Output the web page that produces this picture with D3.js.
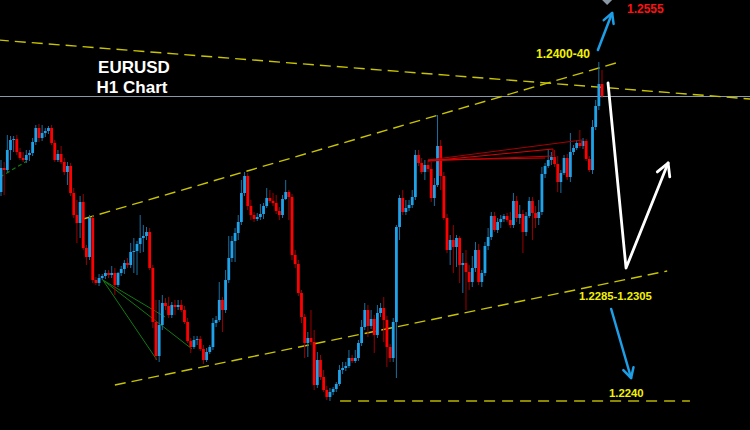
<!DOCTYPE html>
<html><head><meta charset="utf-8">
<script src="https://cdn.jsdelivr.net/npm/d3@7"></script>
<style>html,body{margin:0;padding:0;background:#000;}svg{display:block;}</style>
</head><body><svg id="c" width="750" height="430"></svg>
<script>
// ---- data (EURUSD H1 candles) ----
const opens = [1.2449,1.2473,1.2471,1.2491,1.2501,1.2502,1.2489,1.2483,1.2481,1.2486,1.2488,1.2499,1.2513,1.2503,1.2508,1.2510,1.2513,1.2498,1.2481,1.2487,1.2479,1.2469,1.2475,1.2448,1.2426,1.2418,1.2439,1.2393,1.2384,1.2423,
1.2361,1.2358,1.2363,1.2365,1.2368,1.2366,1.2368,1.2356,1.2368,1.2372,1.2378,1.2376,1.2389,1.2390,1.2397,1.2403,1.2405,1.2409,1.2373,1.2319,
1.2285,1.2316,1.2338,1.2335,1.2326,1.2336,1.2334,1.2336,1.2331,1.2319,1.2300,1.2294,1.2301,1.2302,1.2292,1.2281,1.2289,1.2294,1.2318,1.2321,
1.2341,1.2331,1.2361,1.2383,1.2400,1.2408,1.2419,1.2448,1.2465,1.2435,1.2426,1.2422,1.2424,1.2427,1.2435,1.2443,1.2440,1.2438,1.2430,1.2426,
1.2442,1.2449,1.2444,1.2386,1.2377,1.2348,1.2324,1.2298,1.2303,1.2299,1.2256,1.2281,1.2264,1.2251,1.2244,1.2249,1.2252,1.2257,1.2271,1.2273,
1.2275,1.2283,1.2280,1.2283,1.2298,1.2314,1.2331,1.2315,1.2322,1.2306,1.2328,1.2333,1.2321,1.2294,1.2283,1.2319,1.2414,1.2443,1.2429,1.2433,
1.2436,1.2444,1.2486,1.2478,1.2469,1.2476,1.2472,1.2443,1.2456,1.2495,1.2465,1.2423,1.2391,1.2401,1.2394,1.2403,1.2376,1.2378,1.2369,1.2359,
1.2373,1.2391,1.2359,1.2368,1.2395,1.2404,1.2425,1.2411,1.2419,1.2422,1.2425,1.2421,1.2416,1.2440,1.2423,1.2427,1.2409,1.2425,1.2440,1.2428,
1.2423,1.2429,1.2467,1.2475,1.2481,1.2484,1.2477,1.2459,1.2468,1.2483,1.2464,1.2489,1.2493,1.2498,1.2495,1.2500,1.2482,1.2471,1.2514,1.2535,1.2557];
const highs = [1.2481,1.2479,1.2506,1.2505,1.2505,1.2506,1.2493,1.2489,1.2491,1.2491,1.2503,1.2516,1.2517,1.2516,1.2513,1.2515,1.2516,1.2501,1.2491,1.2495,1.2483,1.2479,1.2478,1.2453,1.2441,1.2445,1.2447,1.2396,1.2426,1.2425,
1.2364,1.2367,1.2367,1.2371,1.2371,1.2375,1.2373,1.2369,1.2375,1.2381,1.2383,1.2398,1.2403,1.2400,1.2426,1.2416,1.2414,1.2413,1.2376,1.2341,
1.2341,1.2346,1.2343,1.2344,1.2339,1.2341,1.2341,1.2341,1.2335,1.2323,1.2303,1.2305,1.2305,1.2305,1.2296,1.2293,1.2296,1.2323,1.2325,1.2359,
1.2344,1.2371,1.2405,1.2405,1.2413,1.2426,1.2461,1.2469,1.2468,1.2441,1.2429,1.2428,1.2437,1.2438,1.2453,1.2451,1.2448,1.2446,1.2434,1.2446,
1.2461,1.2451,1.2447,1.2391,1.2381,1.2351,1.2327,1.2309,1.2331,1.2311,1.2289,1.2286,1.2271,1.2255,1.2253,1.2254,1.2259,1.2276,1.2279,1.2279,
1.2291,1.2286,1.2291,1.2301,1.2321,1.2338,1.2336,1.2331,1.2326,1.2336,1.2338,1.2344,1.2325,1.2297,1.2323,1.2416,1.2446,1.2451,1.2441,1.2441,
1.2451,1.2491,1.2491,1.2483,1.2481,1.2481,1.2479,1.2463,1.2526,1.2501,1.2469,1.2427,1.2406,1.2416,1.2406,1.2405,1.2388,1.2391,1.2376,1.2385,
1.2399,1.2397,1.2371,1.2399,1.2413,1.2429,1.2429,1.2423,1.2426,1.2427,1.2428,1.2429,1.2448,1.2445,1.2436,1.2431,1.2429,1.2444,1.2444,1.2435,
1.2441,1.2474,1.2478,1.2491,1.2489,1.2491,1.2485,1.2471,1.2486,1.2487,1.2508,1.2496,1.2501,1.2511,1.2503,1.2502,1.2485,1.2521,1.2541,1.2579,1.2571];
const lows = [1.2445,1.2446,1.2469,1.2481,1.2489,1.2486,1.2481,1.2479,1.2478,1.2480,1.2485,1.2496,1.2499,1.2500,1.2504,1.2507,1.2496,1.2479,1.2479,1.2477,1.2466,1.2456,1.2445,1.2423,1.2398,1.2403,1.2391,1.2376,1.2381,1.2358,
1.2356,1.2355,1.2361,1.2362,1.2363,1.2363,1.2346,1.2354,1.2365,1.2367,1.2373,1.2373,1.2368,1.2366,1.2388,1.2389,1.2401,1.2371,1.2313,1.2281,
1.2279,1.2311,1.2331,1.2323,1.2323,1.2326,1.2331,1.2329,1.2317,1.2298,1.2288,1.2292,1.2296,1.2290,1.2277,1.2279,1.2287,1.2291,1.2314,1.2319,
1.2309,1.2328,1.2358,1.2379,1.2379,1.2401,1.2416,1.2445,1.2431,1.2421,1.2419,1.2420,1.2421,1.2422,1.2433,1.2438,1.2435,1.2427,1.2421,1.2423,
1.2441,1.2421,1.2381,1.2373,1.2345,1.2318,1.2283,1.2284,1.2296,1.2251,1.2253,1.2261,1.2249,1.2241,1.2240,1.2246,1.2249,1.2255,1.2267,1.2270,
1.2273,1.2278,1.2278,1.2280,1.2295,1.2311,1.2304,1.2312,1.2288,1.2303,1.2324,1.2299,1.2274,1.2279,1.2279,1.2263,1.2401,1.2426,1.2426,1.2430,
1.2433,1.2441,1.2475,1.2467,1.2461,1.2469,1.2439,1.2435,1.2454,1.2451,1.2421,1.2388,1.2376,1.2368,1.2374,1.2358,1.2348,1.2331,1.2351,1.2354,
1.2369,1.2356,1.2354,1.2365,1.2391,1.2401,1.2409,1.2408,1.2413,1.2419,1.2419,1.2413,1.2413,1.2419,1.2417,1.2388,1.2405,1.2423,1.2401,1.2413,
1.2416,1.2426,1.2463,1.2473,1.2476,1.2474,1.2449,1.2448,1.2466,1.2461,1.2459,1.2486,1.2491,1.2493,1.2492,1.2480,1.2469,1.2467,1.2511,1.2531,1.2543];
const closes = [1.2473,1.2471,1.2491,1.2501,1.2502,1.2489,1.2483,1.2481,1.2486,1.2488,1.2499,1.2513,1.2503,1.2508,1.2510,1.2513,1.2498,1.2481,1.2487,1.2479,1.2469,1.2475,1.2448,1.2426,1.2418,1.2439,1.2393,1.2384,1.2423,1.2361,
1.2358,1.2363,1.2365,1.2368,1.2366,1.2368,1.2356,1.2368,1.2372,1.2378,1.2376,1.2389,1.2390,1.2397,1.2403,1.2405,1.2409,1.2373,1.2319,1.2285,
1.2316,1.2338,1.2335,1.2326,1.2336,1.2334,1.2336,1.2331,1.2319,1.2300,1.2294,1.2301,1.2302,1.2292,1.2281,1.2289,1.2294,1.2318,1.2321,1.2341,
1.2331,1.2361,1.2383,1.2400,1.2408,1.2419,1.2448,1.2465,1.2435,1.2426,1.2422,1.2424,1.2427,1.2435,1.2443,1.2440,1.2438,1.2430,1.2426,1.2442,
1.2449,1.2444,1.2386,1.2377,1.2348,1.2324,1.2298,1.2303,1.2299,1.2256,1.2281,1.2264,1.2251,1.2244,1.2249,1.2252,1.2257,1.2271,1.2273,1.2275,
1.2283,1.2280,1.2283,1.2298,1.2314,1.2331,1.2315,1.2322,1.2306,1.2328,1.2333,1.2321,1.2294,1.2283,1.2319,1.2414,1.2443,1.2429,1.2433,1.2436,
1.2444,1.2486,1.2478,1.2469,1.2476,1.2472,1.2443,1.2456,1.2495,1.2465,1.2423,1.2391,1.2401,1.2394,1.2403,1.2376,1.2378,1.2369,1.2359,1.2373,
1.2391,1.2359,1.2368,1.2395,1.2404,1.2425,1.2411,1.2419,1.2422,1.2425,1.2421,1.2416,1.2440,1.2423,1.2427,1.2409,1.2425,1.2440,1.2428,1.2423,
1.2429,1.2467,1.2475,1.2481,1.2484,1.2477,1.2459,1.2468,1.2483,1.2464,1.2489,1.2493,1.2498,1.2495,1.2500,1.2482,1.2471,1.2514,1.2535,1.2557,1.2545];

const currentPrice = 1.2545;
const priceDomain = [1.2240, 1.2545];
// trend lines as [barIndex, price] pairs
const channelTop = [[26, 1.2422], [194.4, 1.2578]];
const channelBottom = [[36, 1.2256], [210.6, 1.2370]];
const resistanceLine = [[-1, 1.2601], [237, 1.2542]];
const targetLevel = [[107.2, 1.2240], [217.8, 1.2240]];
const greenFan = [[[32.2, 1.2361], [49.3, 1.2281]], [[32.2, 1.2361], [60.4, 1.2292]], [[32.2, 1.2361], [51.9, 1.2324]]];
const greenTrend = [[-0.3, 1.2464], [8.2, 1.2480]];
const redFan = [
  [[135, 1.2481], [183.7, 1.2501]],
  [[135, 1.2480], [174.5, 1.2492]],
  [[135, 1.2480], [174.5, 1.2485]],
  [[135, 1.2481], [172.0, 1.2483]],
  [[174.5, 1.2492], [174.5, 1.2485]],
  [[183.7, 1.2501], [183.7, 1.2495]]
];
const redFanColors = ["#a80000", "#e00000", "#c00000", "#d40000", "#c00000", "#b00000"];
const whitePath = [[191.9, 1.2558], [197.6, 1.2373], [210.9, 1.2478]];
const upArrow = [[188.7, 1.2591], [193.2, 1.2628]];
const downArrow = [[192.9, 1.2332], [199.2, 1.2263]];
const labels = [
  {text: "EURUSD", x: 134, y: 73, size: 17, color: "#ffffff", anchor: "middle"},
  {text: "H1 Chart", x: 132, y: 93, size: 17, color: "#ffffff", anchor: "middle"},
  {text: "1.2400-40", x: 536, y: 58, size: 12, color: "#f2f200", anchor: "start"},
  {text: "1.2555", x: 627, y: 13, size: 12, color: "#ff1010", anchor: "start"},
  {text: "1.2285-1.2305", x: 579, y: 300, size: 11.3, color: "#f2f200", anchor: "start"},
  {text: "1.2240", x: 609, y: 397, size: 11.3, color: "#f2f200", anchor: "start"}
];

// ---- drawing ----
const W = 750, H = 430;
const svg = d3.select("#c");
svg.append("rect").attr("width", W).attr("height", H).attr("fill", "#000");
const N = closes.length;
const x = d3.scaleLinear().domain([0, N - 1]).range([1, 602]);
const y = d3.scaleLinear().domain(priceDomain).range([401, 96]);
const line = d3.line().x(d => x(d[0])).y(d => y(d[1]));

// current price line
svg.append("line").attr("x1", 0).attr("x2", W).attr("y1", y(currentPrice) + 0.5).attr("y2", y(currentPrice) + 0.5)
  .attr("stroke", "#8a98a8").attr("stroke-width", 1);

// yellow dashed lines
const yellow = "#c8c400";
[channelTop, channelBottom, resistanceLine].forEach(l => {
  svg.append("path").attr("d", line(l)).attr("fill", "none").attr("stroke", yellow)
    .attr("stroke-width", 1.4).attr("stroke-dasharray", "11,6");
});
svg.append("path").attr("d", line(targetLevel)).attr("fill", "none").attr("stroke", "#b8b400")
  .attr("stroke-width", 1.4).attr("stroke-dasharray", "11,7");

// green lines
greenFan.forEach(l => svg.append("path").attr("d", line(l)).attr("fill", "none").attr("stroke", "#127a12").attr("stroke-width", 1));
svg.append("path").attr("d", line(greenTrend)).attr("fill", "none").attr("stroke", "#127a12").attr("stroke-width", 1.2).attr("stroke-dasharray", "4,3");

// candles
const idx = d3.range(N);
const up = i => closes[i] >= opens[i];
const g = svg.append("g");
g.selectAll("line.w").data(idx).join("line").attr("class", "w")
  .attr("x1", i => x(i)).attr("x2", i => x(i))
  .attr("y1", i => y(highs[i])).attr("y2", i => y(lows[i]))
  .attr("stroke", i => up(i) ? "#1a6fa0" : "#9a0000").attr("stroke-width", 1);
const bw = 2.8;
g.selectAll("rect.b").data(idx).join("rect").attr("class", "b")
  .attr("x", i => x(i) - bw / 2).attr("width", bw)
  .attr("y", i => y(Math.max(opens[i], closes[i])))
  .attr("height", i => Math.max(1, Math.abs(y(opens[i]) - y(closes[i]))))
  .attr("fill", i => up(i) ? "#1ea2ea" : "#ff0000");

// red fan
redFan.forEach((l, k) => svg.append("path").attr("d", line(l)).attr("fill", "none").attr("stroke", redFanColors[k]).attr("stroke-width", 1));

// arrows
function arrow(pts, color, width, headLen) {
  svg.append("path").attr("d", line(pts)).attr("fill", "none").attr("stroke", color)
    .attr("stroke-width", width).attr("stroke-linecap", "round").attr("stroke-linejoin", "round");
  const a = pts[pts.length - 2], b = pts[pts.length - 1];
  const x1 = x(a[0]), y1 = y(a[1]), x2 = x(b[0]), y2 = y(b[1]);
  const ang = Math.atan2(y2 - y1, x2 - x1);
  const h = d3.path();
  h.moveTo(x2 - headLen * Math.cos(ang - 0.5), y2 - headLen * Math.sin(ang - 0.5));
  h.lineTo(x2, y2);
  h.lineTo(x2 - headLen * Math.cos(ang + 0.5), y2 - headLen * Math.sin(ang + 0.5));
  svg.append("path").attr("d", h.toString()).attr("fill", "none").attr("stroke", color)
    .attr("stroke-width", width).attr("stroke-linecap", "round").attr("stroke-linejoin", "round");
}
arrow(whitePath, "#ffffff", 2.8, 14);
arrow(upArrow, "#1e9ee6", 2.5, 11);
arrow(downArrow, "#1e9ee6", 2.5, 11);

// small marker at top
const mx = x(upArrow[1][0]) - 5;
svg.append("path").attr("d", d3.line()([[mx - 5, 0], [mx + 5, 0], [mx, 5]]) + "Z").attr("fill", "#8a96a4");

// labels
svg.selectAll("text.l").data(labels).join("text").attr("class", "l")
  .attr("x", d => d.x).attr("y", d => d.y).attr("text-anchor", d => d.anchor)
  .attr("font-family", "'Liberation Sans', Arial, sans-serif").attr("font-weight", "bold")
  .attr("font-size", d => d.size).attr("fill", d => d.color).text(d => d.text);
</script></body></html>
